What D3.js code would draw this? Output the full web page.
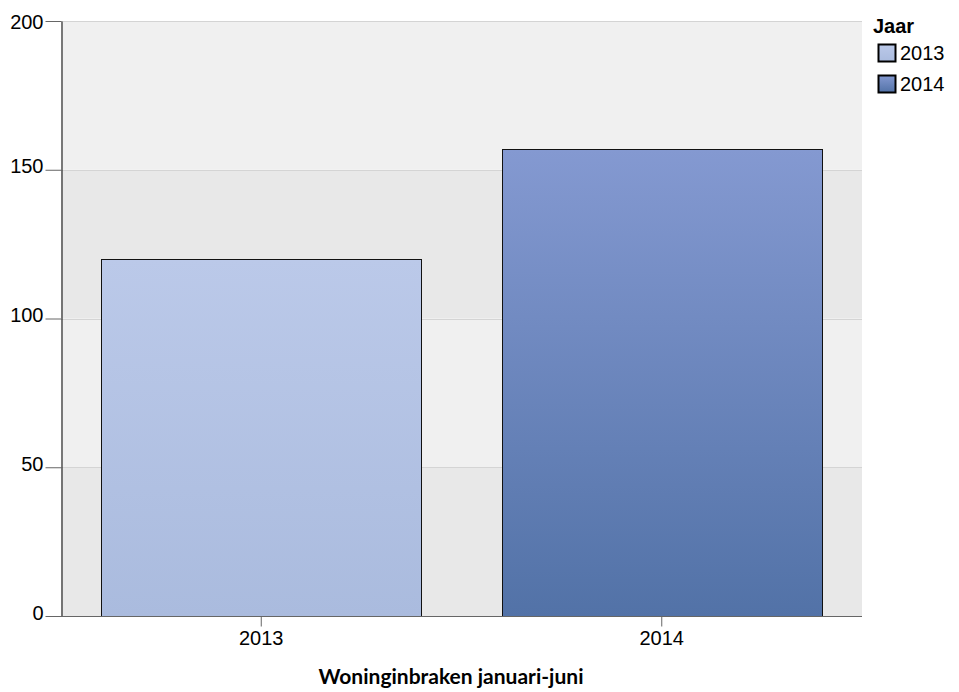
<!DOCTYPE html>
<html><head><meta charset="utf-8">
<script src="https://cdn.jsdelivr.net/npm/d3@7"></script>
<style>body{margin:0;background:#fff}svg{display:block}</style>
</head><body>
<script>
const categories = ["2013", "2014"];
const values = [120, 157];
const yTicks = [0, 50, 100, 150, 200];
const legendTitle = "Jaar";
const xTitle = "Woninginbraken januari-juni";
const gradTop = ["#bbc9e9", "#8499d1"];
const gradBottom = ["#aabbde", "#5272a7"];

const W = 959, H = 692;
const SANS = "'Liberation Sans', Arial, sans-serif";
const m = {left: 61, right: 97, top: 21, bottom: 76};
const svg = d3.select("body").append("svg").attr("width", W).attr("height", H);
const defs = svg.append("defs");
categories.forEach((c, i) => {
  const g = defs.append("linearGradient").attr("id", "g" + i).attr("x1", 0).attr("y1", 0).attr("x2", 0).attr("y2", 1);
  g.append("stop").attr("offset", "0%").attr("stop-color", gradTop[i]);
  g.append("stop").attr("offset", "100%").attr("stop-color", gradBottom[i]);
});

const x = d3.scaleBand().domain(categories).range([m.left, W - m.right]).paddingInner(0.2).paddingOuter(0.1);
const y = d3.scaleLinear().domain([0, 200]).range([H - m.bottom, m.top]);

// alternating bands
const bands = d3.pairs(yTicks);
svg.append("g").selectAll("rect").data(bands).join("rect")
  .attr("x", m.left).attr("width", W - m.right - m.left)
  .attr("y", d => y(d[1])).attr("height", d => y(d[0]) - y(d[1]))
  .attr("fill", (d, i) => i % 2 === 0 ? "#e8e8e8" : "#f0f0f0");
svg.append("g").selectAll("line").data(yTicks.slice(1)).join("line")
  .attr("x1", m.left).attr("x2", W - m.right)
  .attr("y1", d => Math.round(y(d)) + 0.5).attr("y2", d => Math.round(y(d)) + 0.5)
  .attr("stroke", "#d4d4d4");

// bars
svg.append("g").selectAll("rect").data(categories).join("rect")
  .attr("x", d => Math.round(x(d)) + 0.5).attr("width", Math.round(x.bandwidth()))
  .attr("y", (d, i) => Math.round(y(values[i])) + 0.5)
  .attr("height", (d, i) => Math.round(y(0)) - Math.round(y(values[i])))
  .attr("fill", (d, i) => `url(#g${i})`)
  .attr("stroke", "#111").attr("stroke-width", 1);

// y axis
const ya = svg.append("g").attr("transform", `translate(${m.left + 0.5},0)`)
  .call(d3.axisLeft(y).tickValues(yTicks).tickSize(16).tickSizeOuter(0).tickPadding(2));
ya.attr("font-family", null).attr("font-size", null);
ya.select(".domain").attr("stroke", "#000");
ya.selectAll(".tick line").attr("stroke", "#666");
ya.selectAll(".tick text").style("font-family", SANS).style("font-size", "20px").attr("fill", "#000")
  .attr("dy", null).attr("y", d => Math.max(3, 28 - y(d)));

// x axis
const xa = svg.append("g").attr("transform", `translate(0,${Math.round(y(0)) + 0.5})`)
  .call(d3.axisBottom(x).tickSize(10).tickSizeOuter(0).tickPadding(4));
xa.attr("font-family", null).attr("font-size", null);
xa.select(".domain").attr("stroke", "#666").attr("d", `M${m.left - 13},0H${W - m.right}`);
xa.selectAll(".tick line").attr("stroke", "#666");
xa.selectAll(".tick text").style("font-family", SANS).style("font-size", "20px").attr("fill", "#000");

svg.append("text").attr("x", 451).attr("y", 684)
  .attr("text-anchor", "middle").style("font-family", "Lato, sans-serif").style("font-weight", "bold")
  .style("font-size", "21px").attr("fill", "#000").text(xTitle);

// legend
const lg = svg.append("g").attr("transform", "translate(873,0)");
lg.append("text").attr("x", 0).attr("y", 33).style("font-family", SANS)
  .style("font-weight", "bold").style("font-size", "20px").text(legendTitle);
const li = lg.selectAll("g.it").data(categories).join("g").attr("class", "it")
  .attr("transform", (d, i) => `translate(0,${44 + i * 31})`);
li.append("rect").attr("x", 5.5).attr("y", 0.5).attr("width", 17).attr("height", 17)
  .attr("fill", (d, i) => `url(#g${i})`).attr("stroke", "#000").attr("stroke-width", 2);
li.append("text").attr("x", 27).attr("y", 16).style("font-family", SANS)
  .style("font-size", "20px").text(d => d);
</script>
</body></html>
